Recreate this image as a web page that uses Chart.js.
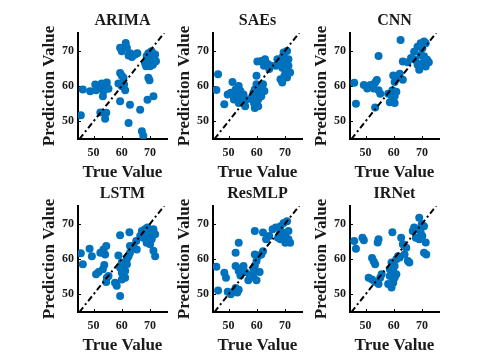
<!DOCTYPE html>
<html>
<head>
<meta charset="utf-8">
<script src="https://cdn.jsdelivr.net/npm/chart.js@4/dist/chart.umd.min.js"></script>
<style>
  html, body { margin: 0; padding: 0; background: #fff; }
  #wrap { position: relative; width: 485px; height: 363px; overflow: hidden; background: #fff; }
  #wrap canvas { position: absolute; }
</style>
</head>
<body>
<div id="wrap"></div>
<script>
// ---------- data ----------
const panelTitles = ['ARIMA', 'SAEs', 'CNN', 'LSTM', 'ResMLP', 'IRNet'];
const tickValues = [50, 60, 70];
const axisMin = 45, axisMax = 75;
const identityLine = [45, 75];

const arimaTrue = [45.5,46.2,48.8,50.6,50.9,52.4,52.9,54.1,54.7,53.5,55.3,53.3,52.4,54.5,54.1,58.8,59.4,60,60.6,60.8,61.2,60,59.4,62.9,62.4,59.4,60,61.4,61.8,62.9,62.4,64.7,65.5,66.5,67.1,67.6,69.1,69.4,69.8,71.2,68.2,69.1,70,70.9,71.8,70.6,71.4,69.4,68.6,70,72.1,69.5,70.5,68.8,71,63.6];
const arimaPred = [51.7,59,58.5,60.4,58.8,59.4,60.7,60.1,61,58.5,59.2,57.1,52.5,52.4,50.7,60.7,63.7,62.9,62.3,60.4,58.8,59.9,55.7,54.7,49.5,70.8,69.8,72.2,70.8,69.3,68.6,68.9,69.3,53.3,47.2,45.9,56.1,62.3,61.6,57.1,66.5,67.5,68.4,69.3,68.9,66.5,67.5,69.3,65.6,65.6,67,66,69.8,68.5,66,68.2];

const saesTrue = [46.3,45.7,48.5,51.4,49.7,50.8,52.5,53.6,54.2,53.1,54.8,55.3,53.6,55.9,51.9,56.5,58.2,58.8,59.3,59.9,59,59.3,60.5,61,61.6,62.2,59.9,61.6,62.7,60.5,60.2,61.6,62.9,63.9,62.5,64.4,65,67.3,67.8,69,69.5,70.1,70.7,71.2,71.8,69.8,69,68.4,70.1,70.7,66.7,69.5,70.7,69,71.2];
const saesPred = [63.3,58.9,54.8,61.1,57.6,58.1,59,60,58.6,57.1,56.2,57.6,55.2,54.3,56.2,56.2,56.7,58.1,59,60.5,55.2,53.8,56.2,57.6,59,60.5,62.9,57.1,58.6,54.3,66.9,67.1,67.6,66.2,65.7,64.8,65.7,67.6,66.9,68.1,69.5,66.7,65.2,67.6,63.8,62.9,61,61.9,64.3,62.4,65.7,68.6,69.9,65.2,65.7];

const cnnTrue = [46,46.6,49.4,50.6,51.7,53.4,54,52.9,54.6,55.2,54.6,53.4,58.6,59.8,60.3,59.2,58,60.3,59.5,60.9,60.3,61.5,62.1,63.2,59.8,62.4,63.2,64.9,66.1,67.2,68.4,69.5,70.7,71.3,69.5,70.7,71.8,70.1,68.4,71.3,69,72.4,67.6,70.1];
const cnnPred = [60.9,55,60.3,59.3,60.3,61,61.7,59.3,58.8,57.8,68.5,53.9,55.4,55.9,55.2,57.3,57.8,57.1,58.8,58.4,61.1,62.6,63.5,61.8,63,73,66.9,66.7,67.9,69.7,71.1,72.1,72.6,72.1,68.8,68.4,67.4,66.5,66,65.5,64.6,66.7,67.4,70.7];

const lstmTrue = [45.5,46.2,48.6,49.4,52.4,53.5,54.5,54.1,50.9,51.8,53.3,53.8,54.7,54.5,55.3,57.6,58.2,59.4,59.4,58.8,60,60.6,61.2,60,61.8,62.4,62.9,61.2,60,61.8,59.4,62.7,62.9,64.1,65.3,65.1,67.1,68.2,69.1,70,71.2,69.4,70.6,71.8,68.8,70,67.6,71.2,71.8,66.5];
const lstmPred = [61.6,58.5,62.9,60.8,61.8,62.7,63.7,61.3,55.7,56.3,57.1,58.3,54.7,53.5,55.2,53.3,52.4,49.5,66.7,61,59,57.5,56.6,56.1,59.9,60.8,61.8,54.7,54.2,58.5,57.5,67.6,63.7,63.7,62.7,65.1,67.9,68.4,68.9,67.9,68.4,66.5,65.6,67,64.6,64.2,66,62.3,60.8,66.5];

const resmlpTrue = [45.7,46.3,48.5,49.1,49.7,50.8,51.9,53.1,53.6,52.5,52.5,53.6,52.5,53.6,54.5,55.3,54.2,55.9,57,57.6,58.8,59.3,59.9,60.5,58.8,59.9,61,61.6,62.2,59.3,59.3,62.2,63.3,64.4,65.6,66.7,68.4,69.5,70.7,68.1,69,70.1,71.2,68.4,70.1,71.8,67.5,71.2];
const resmlpPred = [57.8,51.1,56.1,54.7,50.7,50,50.9,50.5,51.3,51.8,61.8,64.6,58,56.6,57.3,58,55.3,56.3,54,55.3,56.7,58.1,59.4,60.8,54.9,54,56.3,61.3,62.2,61.3,67.9,67.5,65.6,66.5,68.4,68.9,69.3,70.2,70.7,67,67.5,66.5,65.6,65.6,64.6,64.6,66,67.9];

const irnetTrue = [46,46.6,48.9,49.4,54.6,54.3,52.3,52.9,53.4,51.1,52.3,53.4,55.2,55.7,54.6,59.5,58,59.2,59.8,58.6,59.8,60.3,59.2,60.9,61.5,62.1,58.6,60.3,60.9,62.6,63.2,64.4,63.8,65.5,65,69,66.7,67.2,68.4,69.5,70.7,70.1,69,71.3,67.8,70.7,71.5,69.9];
const irnetPred = [65.1,62.9,66,65.3,65.6,64.7,60.3,59.3,58.5,54.7,54.2,53.5,54.7,55.7,52.9,67.6,52.9,51.9,53.3,55.2,56.6,58,59,59.9,60.8,60.4,57.1,54.7,55.7,66,64.2,63.2,61.3,59,59.4,71.7,67.9,68.9,68.4,67.5,69.3,66.5,65.6,64.7,66,61.8,61.3,69.8];

const trueSeries = [arimaTrue, saesTrue, cnnTrue, lstmTrue, resmlpTrue, irnetTrue];
const predSeries = [arimaPred, saesPred, cnnPred, lstmPred, resmlpPred, irnetPred];

// ---------- layout ----------
const axisLefts = [78, 213, 350];
const axisTops = [33, 206];
const Y_AXIS_W = 48, X_AXIS_H = 46, TOP_H = 33, PLOT_W = 89, PLOT_H = 106, RIGHT_PAD = 8;
const FONT = "'Liberation Serif', 'Times New Roman', serif";
const TXT = '#1a1a1a';

const inwardTicks = {
  id: 'inwardTicks',
  beforeDatasetsDraw(chart) {
    const {ctx, chartArea, scales} = chart;
    ctx.save();
    ctx.strokeStyle = '#000';
    ctx.lineWidth = 1;
    tickValues.forEach(v => {
      const px = Math.round(scales.x.getPixelForValue(v)) + 0.5;
      ctx.beginPath(); ctx.moveTo(px, chartArea.bottom); ctx.lineTo(px, chartArea.bottom - 3); ctx.stroke();
      const py = Math.round(scales.y.getPixelForValue(v)) + 0.5;
      ctx.beginPath(); ctx.moveTo(chartArea.left, py); ctx.lineTo(chartArea.left + 3, py); ctx.stroke();
    });
    ctx.restore();
  }
};

const wrap = document.getElementById('wrap');
panelTitles.forEach((title, i) => {
  const col = i % 3, row = Math.floor(i / 3);
  const cv = document.createElement('canvas');
  const w = Y_AXIS_W + PLOT_W + RIGHT_PAD;
  const h = TOP_H + PLOT_H + X_AXIS_H;
  cv.width = w; cv.height = h;
  cv.style.width = w + 'px'; cv.style.height = h + 'px';
  cv.style.left = (axisLefts[col] - Y_AXIS_W) + 'px';
  cv.style.top = (axisTops[row] - TOP_H) + 'px';
  wrap.appendChild(cv);

  const pts = trueSeries[i].map((t, k) => ({x: t, y: predSeries[i][k]}));
  new Chart(cv, {
    type: 'scatter',
    data: {
      datasets: [
        {
          type: 'line',
          data: identityLine.map(v => ({x: v, y: v})),
          borderColor: '#000',
          borderWidth: 2,
          borderDash: [6, 3, 2, 3],
          pointRadius: 0,
          fill: false
        },
        {
          data: pts,
          backgroundColor: 'rgb(0,114,189)',
          borderColor: 'rgb(0,114,189)',
          borderWidth: 0,
          pointRadius: 4
        }
      ]
    },
    options: {
      responsive: false,
      animation: false,
      devicePixelRatio: 1,
      layout: { padding: { left: 0, right: RIGHT_PAD, top: 0, bottom: 0 } },
      plugins: {
        legend: { display: false },
        tooltip: { enabled: false },
        title: {
          display: true,
          fullSize: false,
          align: 'center',
          text: title,
          color: TXT,
          font: { family: FONT, size: 16, weight: 'bold', lineHeight: 1.2 },
          padding: { top: 11.4, bottom: 2.4 }
        }
      },
      scales: {
        x: {
          type: 'linear',
          min: 44.5, max: 76,
          afterBuildTicks: s => { s.ticks = tickValues.map(v => ({value: v})); },
          afterFit: s => { s.height = X_AXIS_H; },
          grid: { display: false, drawTicks: false },
          border: { display: true, color: '#000', width: 2 },
          ticks: { color: TXT, padding: 7, font: { family: FONT, size: 12, weight: 'bold' } },
          title: {
            display: true, text: 'True Value', color: TXT,
            font: { family: FONT, size: 17, weight: 'bold', lineHeight: 1.2 },
            padding: { top: 0, bottom: 2 }
          }
        },
        y: {
          type: 'linear',
          min: axisMin, max: axisMax,
          afterBuildTicks: s => { s.ticks = tickValues.map(v => ({value: v})); },
          afterFit: s => { s.width = Y_AXIS_W; },
          grid: { display: false, drawTicks: false },
          border: { display: true, color: '#000', width: 2 },
          ticks: { color: TXT, padding: 4, font: { family: FONT, size: 12, weight: 'bold' } },
          title: {
            display: true, text: 'Prediction Value', color: TXT,
            font: { family: FONT, size: 17, weight: 'bold', lineHeight: 1.2 },
            padding: { top: 9, bottom: 0 }
          }
        }
      }
    },
    plugins: [inwardTicks]
  });
});
</script>
</body>
</html>
